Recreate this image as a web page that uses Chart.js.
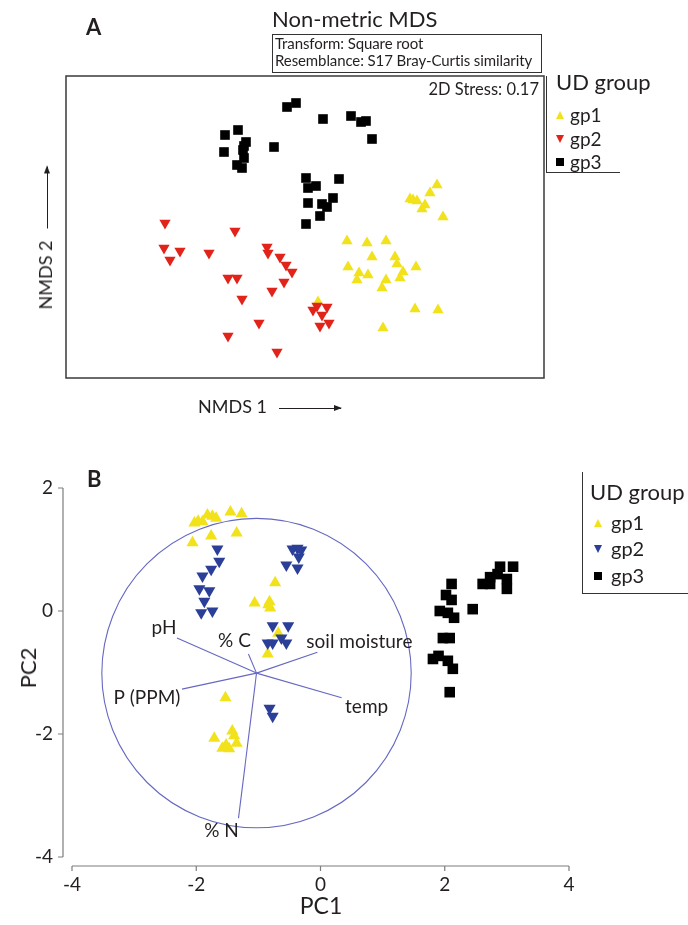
<!DOCTYPE html>
<html>
<head>
<meta charset="utf-8">
<script src="https://cdn.jsdelivr.net/npm/chart.js@4.4.1/dist/chart.umd.min.js"></script>
<style>
  body { margin: 0; background: #fff; }
  #page { position: relative; width: 688px; height: 925px; overflow: hidden;
          font-family: Lato, 'Open Sans', sans-serif; color: #231f20; }
  canvas { position: absolute; left: 0; }
  .t { position: absolute; white-space: nowrap; line-height: 1; }
  .bold { font-weight: bold; }
  .hline { position: absolute; height: 1px; background: #333; }
  .vline { position: absolute; width: 1px; background: #333; }
  .arrow { display: inline-block; position: relative; height: 1px; background: #231f20; vertical-align: middle; }
  .arrow::after { content: ''; position: absolute; right: -1px; top: -3px;
                  border-left: 8px solid #231f20; border-top: 3.5px solid transparent; border-bottom: 3.5px solid transparent; }
  .mk { position: absolute; width: 0; height: 0; }
</style>
</head>
<body>
<div id="page">
  <canvas id="chartA" width="688" height="440" style="top:0"></canvas>
  <canvas id="chartB" width="688" height="485" style="top:440px"></canvas>

  <!-- panel A text -->
  <div class="t bold" style="left:86px;top:16px;font-size:22px">A</div>
  <div class="t" style="left:272px;top:8px;font-size:22px">Non-metric MDS</div>
  <div style="position:absolute;left:272px;top:34px;width:268px;height:37px;border:1px solid #333"></div>
  <div class="t" style="left:275px;top:36px;font-size:15px;letter-spacing:-0.1px">Transform: Square root</div>
  <div class="t" style="left:275px;top:53px;font-size:15px;letter-spacing:-0.1px">Resemblance: S17 Bray-Curtis similarity</div>
  <div class="t" style="right:149px;top:81px;font-size:16.5px">2D Stress: 0.17</div>

  <div class="vline" style="left:546px;top:76px;height:96px"></div>
  <div class="hline" style="left:546px;top:172px;width:74px"></div>
  <div class="t" style="left:556px;top:71px;font-size:22px">UD group</div>
  <div class="mk" style="left:556px;top:111px;border-left:4.5px solid transparent;border-right:4.5px solid transparent;border-bottom:8px solid #f2e21c"></div>
  <div class="mk" style="left:556px;top:135px;border-left:4.5px solid transparent;border-right:4.5px solid transparent;border-top:8px solid #e2231a"></div>
  <div class="mk" style="left:556px;top:158px;width:8px;height:8px;background:#000"></div>
  <div class="t" style="left:570px;top:105px;font-size:19px">gp1</div>
  <div class="t" style="left:570px;top:129px;font-size:19px">gp2</div>
  <div class="t" style="left:570px;top:152px;font-size:19px">gp3</div>

  <div class="t" style="left:45px;top:238px;font-size:18px;transform:translate(-50%,-50%) rotate(-90deg)">NMDS 2<span class="arrow" style="width:62px;margin-left:12px"></span></div>
  <div class="t" style="left:198px;top:397px;font-size:18px">NMDS 1<span class="arrow" style="width:62px;margin-left:12px"></span></div>

  <!-- panel B text -->
  <div class="t bold" style="left:87px;top:468px;font-size:22px">B</div>
  <div class="vline" style="left:582px;top:472px;height:121px"></div>
  <div class="hline" style="left:582px;top:593px;width:106px"></div>
  <div class="t" style="left:590px;top:481px;font-size:22px">UD group</div>
  <div class="mk" style="left:594px;top:519px;border-left:4.5px solid transparent;border-right:4.5px solid transparent;border-bottom:8px solid #f2e21c"></div>
  <div class="mk" style="left:594px;top:545px;border-left:4.5px solid transparent;border-right:4.5px solid transparent;border-top:8px solid #2b3f98"></div>
  <div class="mk" style="left:594px;top:572px;width:8px;height:8px;background:#000"></div>
  <div class="t" style="left:611px;top:512px;font-size:20px">gp1</div>
  <div class="t" style="left:611px;top:538px;font-size:20px">gp2</div>
  <div class="t" style="left:611px;top:565px;font-size:20px">gp3</div>

  <div class="t" style="left:28px;top:668px;font-size:22px;transform:translate(-50%,-50%) rotate(-90deg)">PC2</div>
  <div class="t" style="left:321px;top:894px;font-size:23px;transform:translateX(-50%)">PC1</div>
</div>

<script>
// Panel A: NMDS scores per UD group (arbitrary units)
const nmdsGp1X = [1.32, 1.25, 1.05, 1.08, 1.12, 1.20, 1.17, 1.38, 0.42, 0.62, 0.81, 0.67, 0.90, 0.92,
  0.43, 0.54, 0.63, 0.52, 0.81, 0.77, 0.98, 0.95, 1.11, 1.10, 1.33, 0.78, 0.13];
const nmdsGp1Y = [0.42, 0.34, 0.28, 0.27, 0.26, 0.22, 0.18, 0.10, -0.14, -0.16, -0.14, -0.30, -0.30, -0.37,
  -0.40, -0.46, -0.48, -0.53, -0.53, -0.61, -0.45, -0.51, -0.40, -0.82, -0.83, -1.01, -0.75];
const nmdsGp2X = [-1.40, -1.41, -1.25, -1.35, -0.70, -0.96, -0.38, -0.37, -0.25, -0.19, -0.13, -0.21, -0.33,
  -0.77, -0.68, -0.63, -0.46, -0.77, -0.28, 0.08, 0.12, 0.22, 0.17, 0.15, 0.24];
const nmdsGp2Y = [0.04, -0.21, -0.24, -0.33, -0.04, -0.26, -0.20, -0.26, -0.30, -0.38, -0.45, -0.55, -0.64,
  -0.51, -0.51, -0.72, -0.96, -1.09, -1.25, -0.83, -0.79, -0.80, -0.88, -0.99, -0.96];
const nmdsGp3X = [-0.18, -0.09, 0.18, 0.46, 0.56, 0.61, 0.67, -0.80, -0.67, -0.59, -0.81, -0.62, -0.61, -0.68,
  -0.63, -0.61, -0.31, 0.01, 0.03, 0.11, 0.34, 0.03, 0.17, 0.22, 0.28, 0.15, 0.01];
const nmdsGp3Y = [1.20, 1.24, 1.08, 1.11, 1.05, 1.06, 0.88, 0.92, 0.97, 0.85, 0.75, 0.77, 0.69, 0.62,
  0.59, 0.81, 0.80, 0.49, 0.39, 0.41, 0.48, 0.24, 0.23, 0.20, 0.29, 0.11, 0.03];

// Panel B: PCA scores per UD group
const pcaGp1X = [-2.03, -1.97, -1.90, -1.82, -1.74, -1.68, -1.45, -1.27, -1.76, -1.35, -2.06, -0.73, -1.06,
  -0.82, -0.81, -0.84, -0.68, -0.85, -1.53, -1.71, -1.42, -1.39, -1.35, -1.58, -1.47, -1.52];
const pcaGp1Y = [1.43, 1.46, 1.45, 1.56, 1.54, 1.51, 1.61, 1.58, 1.22, 1.27, 1.11, 0.46, 0.13,
  0.15, 0.05, 0.10, -0.36, -0.70, -1.41, -2.07, -1.95, -2.03, -2.15, -2.23, -2.24, -2.18];
const pcaGp2X = [-1.66, -1.63, -1.76, -1.90, -1.95, -1.79, -1.87, -1.92, -1.74, -0.45, -0.37, -0.31, -0.35,
  -0.55, -0.37, -0.77, -0.52, -0.63, -0.55, -0.85, -0.77, -0.82, -0.77];
const pcaGp2Y = [1.01, 0.81, 0.68, 0.57, 0.36, 0.33, 0.16, -0.03, 0.00, 1.01, 1.02, 0.99, 0.88,
  0.75, 0.70, -0.24, -0.24, -0.44, -0.52, -0.52, -0.52, -1.58, -1.71];
const pcaGp3X = [3.10, 2.89, 2.85, 2.73, 2.61, 2.73, 3.00, 3.00, 2.45, 2.11, 2.02, 2.11, 1.92, 2.05, 2.15,
  1.97, 2.08, 1.81, 1.90, 2.05, 2.13, 2.08];
const pcaGp3Y = [0.72, 0.72, 0.60, 0.55, 0.44, 0.44, 0.52, 0.36, 0.03, 0.44, 0.26, 0.18, 0.00, -0.03, -0.11,
  -0.44, -0.44, -0.78, -0.73, -0.81, -0.94, -1.32];

const pcTicksX = [-4, -2, 0, 2, 4];
const pcTicksY = [-4, -2, 0, 2];

// environmental vectors (biplot) and correlation circle
const vectorLabels = ['pH', '% C', 'soil moisture', 'P (PPM)', 'temp', '% N'];
const vectorX = [-2.31, -1.16, -0.05, -2.23, 0.34, -1.32];
const vectorY = [-0.44, -0.70, -0.67, -1.27, -1.41, -3.37];
const vectorOrigin = [-1.03, -1.01];
const circleRadius = 2.49;

const YELLOW = '#f2e21c';
const RED = '#e2231a';
const BLUE = '#2b3f98';
const BLACK = '#000000';
const FONT = 'Lato, "Open Sans", sans-serif';

function toPoints(xs, ys) {
  return xs.map((x, i) => ({ x: x, y: ys[i] }));
}

function groupSet(label, xs, ys, color, style, radius, rotation, order) {
  return {
    label: label,
    data: toPoints(xs, ys),
    pointStyle: style,
    pointRadius: radius,
    pointRotation: rotation,
    pointBackgroundColor: color,
    pointBorderWidth: 0,
    clip: false,
    order: order,
  };
}

// frame around the NMDS plot
const frameBox = {
  id: 'frameBox',
  afterDraw(chart) {
    const { ctx, chartArea: a } = chart;
    ctx.save();
    ctx.strokeStyle = '#3a3a3a';
    ctx.lineWidth = 1.5;
    ctx.strokeRect(a.left, a.top, a.right - a.left, a.bottom - a.top);
    ctx.restore();
  },
};

new Chart(document.getElementById('chartA'), {
  type: 'scatter',
  data: {
    datasets: [
      groupSet('gp1', nmdsGp1X, nmdsGp1Y, YELLOW, 'triangle', 6.5, 0, 3),
      groupSet('gp2', nmdsGp2X, nmdsGp2Y, RED, 'triangle', 6.5, 180, 2),
      groupSet('gp3', nmdsGp3X, nmdsGp3Y, BLACK, 'rect', 6.8, 0, 1),
    ],
  },
  options: {
    responsive: false,
    animation: false,
    events: [],
    layout: { padding: { left: 66, right: 144, top: 76, bottom: 62 } },
    plugins: { legend: { display: false }, tooltip: { enabled: false } },
    scales: {
      x: { type: 'linear', display: false, min: -2.39, max: 2.39 },
      y: { type: 'linear', display: false, min: -1.51, max: 1.51 },
    },
  },
  plugins: [frameBox],
});

// detached axes, correlation circle and vectors for the PCA plot
const pcaDecor = {
  id: 'pcaDecor',
  beforeDatasetsDraw(chart) {
    const { ctx, chartArea: a, scales: { x, y } } = chart;
    ctx.save();
    const ox = x.getPixelForValue(vectorOrigin[0]);
    const oy = y.getPixelForValue(vectorOrigin[1]);
    const r = x.getPixelForValue(vectorOrigin[0] + circleRadius) - ox;
    ctx.strokeStyle = '#6668c2';
    ctx.lineWidth = 1.1;
    ctx.beginPath();
    ctx.arc(ox, oy, r, 0, Math.PI * 2);
    ctx.stroke();
    vectorX.forEach((vx, i) => {
      ctx.beginPath();
      ctx.moveTo(ox, oy);
      ctx.lineTo(x.getPixelForValue(vx), y.getPixelForValue(vectorY[i]));
      ctx.stroke();
    });

    // axes sit a few pixels away from the plot area
    const ax = a.left - 9;
    const ay = a.bottom + 9;
    ctx.strokeStyle = '#7d7d7d';
    ctx.lineWidth = 1.2;
    ctx.beginPath();
    ctx.moveTo(ax, y.getPixelForValue(Math.max(...pcTicksY)));
    ctx.lineTo(ax, y.getPixelForValue(Math.min(...pcTicksY)));
    pcTicksY.forEach((v) => {
      const py = y.getPixelForValue(v);
      ctx.moveTo(ax - 5, py);
      ctx.lineTo(ax, py);
    });
    ctx.moveTo(x.getPixelForValue(Math.min(...pcTicksX)), ay);
    ctx.lineTo(x.getPixelForValue(Math.max(...pcTicksX)), ay);
    pcTicksX.forEach((v) => {
      const px = x.getPixelForValue(v);
      ctx.moveTo(px, ay);
      ctx.lineTo(px, ay + 5);
    });
    ctx.stroke();
    ctx.restore();
  },
  afterDatasetsDraw(chart) {
    const { ctx, scales: { x, y } } = chart;
    // label offsets from each vector tip, in pixels
    const offsets = [[-13, -10], [-14, -13], [42, -10], [-35, 9], [25, 9], [-17, 13]];
    ctx.save();
    ctx.fillStyle = '#231f20';
    ctx.font = '19px ' + FONT;
    ctx.textAlign = 'center';
    ctx.textBaseline = 'middle';
    vectorLabels.forEach((lab, i) => {
      ctx.fillText(lab, x.getPixelForValue(vectorX[i]) + offsets[i][0], y.getPixelForValue(vectorY[i]) + offsets[i][1]);
    });
    ctx.restore();
  },
};

const tickStyle = { color: '#231f20', font: { family: FONT, size: 19 }, callback: (v) => String(v) };

new Chart(document.getElementById('chartB'), {
  type: 'scatter',
  data: {
    datasets: [
      groupSet('gp1', pcaGp1X, pcaGp1Y, YELLOW, 'triangle', 7, 0, 3),
      groupSet('gp2', pcaGp2X, pcaGp2Y, BLUE, 'triangle', 7, 180, 2),
      groupSet('gp3', pcaGp3X, pcaGp3Y, BLACK, 'rect', 7.5, 0, 1),
    ],
  },
  options: {
    responsive: false,
    animation: false,
    events: [],
    layout: { padding: { left: 0, right: 119, top: 48, bottom: 0 } },
    plugins: { legend: { display: false }, tooltip: { enabled: false } },
    scales: {
      x: {
        type: 'linear',
        min: -4,
        max: 4,
        afterBuildTicks: (s) => { s.ticks = pcTicksX.map((v) => ({ value: v })); },
        afterFit: (s) => { s.height = 68; },
        grid: { display: false, drawTicks: false },
        border: { display: false },
        ticks: Object.assign({ padding: 16, maxRotation: 0 }, tickStyle),
      },
      y: {
        type: 'linear',
        min: -4,
        max: 2,
        afterBuildTicks: (s) => { s.ticks = pcTicksY.map((v) => ({ value: v })); },
        afterFit: (s) => { s.width = 72; },
        grid: { display: false, drawTicks: false },
        border: { display: false },
        ticks: Object.assign({ padding: 19 }, tickStyle),
      },
    },
  },
  plugins: [pcaDecor],
});
</script>
</body>
</html>
